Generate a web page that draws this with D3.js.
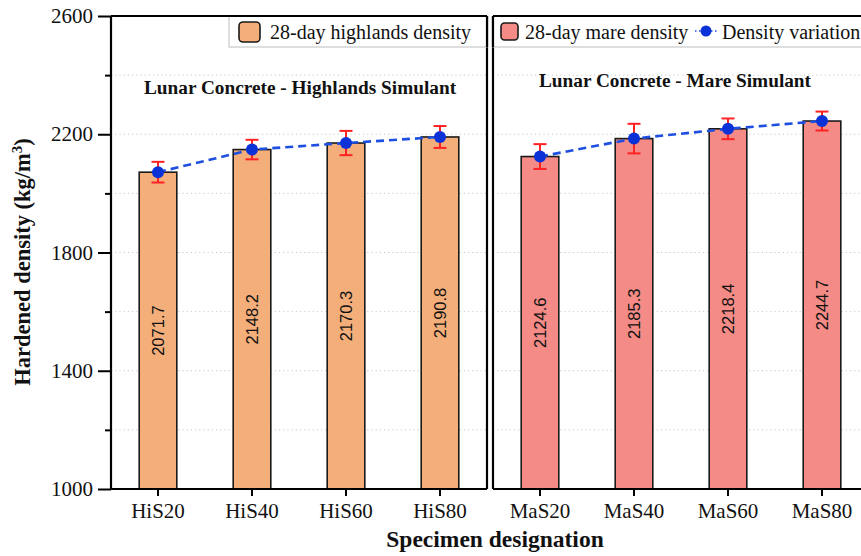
<!DOCTYPE html>
<html>
<head>
<meta charset="utf-8">
<script src="https://cdn.jsdelivr.net/npm/d3@7"></script>
<style>
  html, body { margin: 0; padding: 0; background: #fff; }
  svg { display: block; }
</style>
</head>
<body>
<svg id="chart" width="861" height="556"></svg>
<script>
// Hardened density of lunar concrete, two simulant groups
const highlandsCats = ["HiS20", "HiS40", "HiS60", "HiS80"];
const highlandsDensity = [2071.7, 2148.2, 2170.3, 2190.8];
const highlandsError = [35, 33, 41, 37];

const mareCats = ["MaS20", "MaS40", "MaS60", "MaS80"];
const mareDensity = [2124.6, 2185.3, 2218.4, 2244.7];
const mareError = [42, 50, 35, 32];

const yMajorTicks = [1000, 1400, 1800, 2200, 2600];
const yMinorTicks = [1200, 1600, 2000, 2400];
const gridValues = [1200, 1400, 1600, 1800, 2000, 2200, 2400];

const serif = "'Liberation Serif', 'Times New Roman', serif";
const sans = "'Liberation Sans', Arial, sans-serif";

const svg = d3.select("#chart");

const plotTop = 16, plotBottom = 489;
const y = d3.scaleLinear().domain([1000, 2600]).range([plotBottom, plotTop]);

const panels = [
  {
    cats: highlandsCats, vals: highlandsDensity, errs: highlandsError,
    x0: 111, x1: 487, fill: "#F4AE7A",
    title: "Lunar Concrete - Highlands Simulant", titleX: 300, titleY: 94,
    rightBorder: true
  },
  {
    cats: mareCats, vals: mareDensity, errs: mareError,
    x0: 493, x1: 869, fill: "#F48B86",
    title: "Lunar Concrete - Mare Simulant", titleX: 675, titleY: 87,
    rightBorder: false
  }
];

panels.forEach(p => {
  const x = d3.scaleBand().domain(p.cats).range([p.x0, p.x1])
    .paddingInner(0.6).paddingOuter(0.3);
  const g = svg.append("g");

  // dotted grid
  g.selectAll("line.grid").data(gridValues).join("line")
    .attr("x1", p.x0).attr("x2", p.x1)
    .attr("y1", d => y(d)).attr("y2", d => y(d))
    .attr("stroke", "#c8c8c8").attr("stroke-width", 1)
    .attr("stroke-dasharray", "1.2,3");

  // bars
  g.selectAll("rect.bar").data(p.cats).join("rect")
    .attr("x", d => x(d)).attr("width", x.bandwidth())
    .attr("y", (d, i) => y(p.vals[i]))
    .attr("height", (d, i) => y(1000) - y(p.vals[i]))
    .attr("fill", p.fill).attr("stroke", "#1a1a1a").attr("stroke-width", 1.6);

  // value labels, rotated, centered in bar
  g.selectAll("text.val").data(p.cats).join("text")
    .attr("transform", (d, i) => {
      const cx = x(d) + x.bandwidth() / 2;
      const cy = (y(p.vals[i]) + y(1000)) / 2;
      return `translate(${cx},${cy}) rotate(-90)`;
    })
    .attr("text-anchor", "middle").attr("dy", "0.36em")
    .attr("font-family", sans).attr("font-size", 16.5).attr("fill", "#111")
    .text((d, i) => p.vals[i].toFixed(1));

  // error bars
  const cap = 6.5;
  const eg = g.selectAll("g.err").data(p.cats).join("g")
    .attr("stroke", "#ff2222").attr("stroke-width", 2).attr("fill", "none");
  eg.append("line")
    .attr("x1", d => x(d) + x.bandwidth() / 2).attr("x2", d => x(d) + x.bandwidth() / 2)
    .attr("y1", (d, i) => y(p.vals[i] + p.errs[i])).attr("y2", (d, i) => y(p.vals[i] - p.errs[i]));
  eg.append("line")
    .attr("x1", d => x(d) + x.bandwidth() / 2 - cap).attr("x2", d => x(d) + x.bandwidth() / 2 + cap)
    .attr("y1", (d, i) => y(p.vals[i] + p.errs[i])).attr("y2", (d, i) => y(p.vals[i] + p.errs[i]));
  eg.append("line")
    .attr("x1", d => x(d) + x.bandwidth() / 2 - cap).attr("x2", d => x(d) + x.bandwidth() / 2 + cap)
    .attr("y1", (d, i) => y(p.vals[i] - p.errs[i])).attr("y2", (d, i) => y(p.vals[i] - p.errs[i]));

  // density variation line
  const line = d3.line()
    .x((d, i) => x(p.cats[i]) + x.bandwidth() / 2)
    .y(d => y(d));
  g.append("path").datum(p.vals)
    .attr("d", line).attr("fill", "none")
    .attr("stroke", "#1f4fe0").attr("stroke-width", 2.6)
    .attr("stroke-dasharray", "8,5");
  g.selectAll("circle.pt").data(p.cats).join("circle")
    .attr("cx", d => x(d) + x.bandwidth() / 2)
    .attr("cy", (d, i) => y(p.vals[i]))
    .attr("r", 6).attr("fill", "#0a32d6");

  // panel title
  g.append("text")
    .attr("x", p.titleX).attr("y", p.titleY)
    .attr("text-anchor", "middle")
    .attr("font-family", serif).attr("font-weight", "bold").attr("font-size", 19.3)
    .attr("fill", "#111")
    .text(p.title);

  // x axis ticks + labels
  const xAxis = d3.axisBottom(x).tickSize(7).tickPadding(7);
  const ax = g.append("g").attr("transform", `translate(0,${plotBottom})`).call(xAxis);
  ax.select(".domain").remove();
  ax.selectAll(".tick line").attr("stroke", "#000").attr("stroke-width", 2);
  ax.selectAll(".tick text")
    .attr("font-family", serif).attr("font-size", 21).attr("fill", "#111");

  // frame
  const fr = g.append("g").attr("stroke", "#000").attr("stroke-width", 2.2).attr("fill", "none");
  fr.append("line").attr("x1", p.x0).attr("x2", p.x1).attr("y1", plotTop).attr("y2", plotTop);
  fr.append("line").attr("x1", p.x0).attr("x2", p.x1).attr("y1", plotBottom).attr("y2", plotBottom);
  fr.append("line").attr("x1", p.x0).attr("x2", p.x0).attr("y1", plotTop).attr("y2", plotBottom);
  if (p.rightBorder) {
    fr.append("line").attr("x1", p.x1).attr("x2", p.x1).attr("y1", plotTop).attr("y2", plotBottom);
  }
});

// y axis (left panel)
const yAxis = d3.axisLeft(y).tickValues(yMajorTicks).tickSize(13).tickPadding(5)
  .tickFormat(d3.format("d"));
const ya = svg.append("g").attr("transform", "translate(111,0)").call(yAxis);
ya.select(".domain").remove();
ya.selectAll(".tick line").attr("stroke", "#000").attr("stroke-width", 2);
ya.selectAll(".tick text")
  .attr("font-family", serif).attr("font-size", 21).attr("fill", "#111");
const yMinor = d3.axisLeft(y).tickValues(yMinorTicks).tickSize(6).tickFormat("");
const ym = svg.append("g").attr("transform", "translate(111,0)").call(yMinor);
ym.select(".domain").remove();
ym.selectAll(".tick line").attr("stroke", "#000").attr("stroke-width", 2);

// axis titles
svg.append("text")
  .attr("transform", "translate(30,262) rotate(-90)")
  .attr("text-anchor", "middle")
  .attr("font-family", serif).attr("font-weight", "bold").attr("font-size", 22.5)
  .attr("fill", "#111")
  .html('Hardened density (kg/m<tspan dy="-8" font-size="15">3</tspan><tspan dy="8">)</tspan>');

svg.append("text")
  .attr("x", 495).attr("y", 547)
  .attr("text-anchor", "middle")
  .attr("font-family", serif).attr("font-weight", "bold").attr("font-size", 23.5)
  .attr("fill", "#111")
  .text("Specimen designation");

// legends
const legL = svg.append("g");
legL.append("rect").attr("x", 229).attr("y", 16).attr("width", 487 - 229).attr("height", 31)
  .attr("fill", "#fff").attr("stroke", "#bdbdbd").attr("stroke-width", 1);
legL.append("rect").attr("x", 239).attr("y", 22).attr("width", 21).attr("height", 20).attr("rx", 4)
  .attr("fill", "#F4AE7A").attr("stroke", "#1a1a1a").attr("stroke-width", 1.6);
legL.append("text").attr("x", 270).attr("y", 39)
  .attr("font-family", serif).attr("font-size", 20).attr("fill", "#111")
  .text("28-day highlands density");

const legR = svg.append("g");
legR.append("rect").attr("x", 493).attr("y", 16).attr("width", 400).attr("height", 31)
  .attr("fill", "#fff").attr("stroke", "#bdbdbd").attr("stroke-width", 1);
legR.append("rect").attr("x", 501).attr("y", 23).attr("width", 17).attr("height", 17).attr("rx", 3.5)
  .attr("fill", "#F48B86").attr("stroke", "#1a1a1a").attr("stroke-width", 1.6);
legR.append("text").attr("x", 525).attr("y", 39)
  .attr("font-family", serif).attr("font-size", 20).attr("fill", "#111")
  .text("28-day mare density");
legR.append("line").attr("x1", 695).attr("x2", 717).attr("y1", 31).attr("y2", 31)
  .attr("stroke", "#1f4fe0").attr("stroke-width", 1.5).attr("stroke-dasharray", "1.5,2.5");
legR.append("circle").attr("cx", 706).attr("cy", 31).attr("r", 5.5).attr("fill", "#0a32d6");
legR.append("text").attr("x", 722).attr("y", 39)
  .attr("font-family", serif).attr("font-size", 20).attr("fill", "#111")
  .text("Density variation");

// frame edges redrawn over the legend boxes
svg.append("line").attr("x1", 111).attr("x2", 487).attr("y1", plotTop).attr("y2", plotTop)
  .attr("stroke", "#000").attr("stroke-width", 2.2);
svg.append("line").attr("x1", 487).attr("x2", 487).attr("y1", plotTop).attr("y2", 47)
  .attr("stroke", "#000").attr("stroke-width", 2.2);
svg.append("line").attr("x1", 493).attr("x2", 861).attr("y1", plotTop).attr("y2", plotTop)
  .attr("stroke", "#000").attr("stroke-width", 2.2);
svg.append("line").attr("x1", 493).attr("x2", 493).attr("y1", plotTop).attr("y2", 47)
  .attr("stroke", "#000").attr("stroke-width", 2.2);
</script>
</body>
</html>
